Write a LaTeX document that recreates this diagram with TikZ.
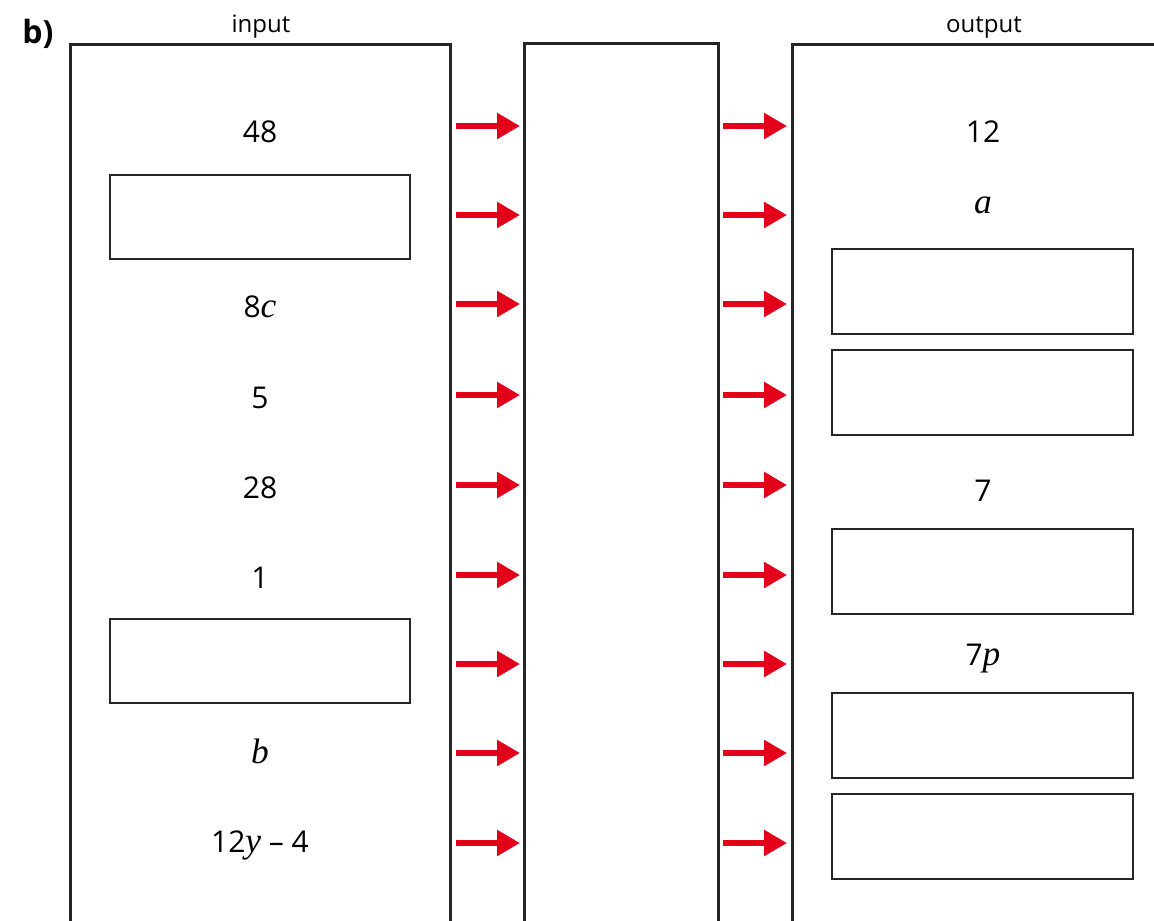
\documentclass[tikz,border=0pt]{standalone}
\usepackage{amsmath}
\usepackage{xcolor}
\usepackage{fontspec}
\setmainfont{Open Sans}
\newfontfamily\varfont{Liberation Serif}[Scale=1.18]
\newcommand{\var}[1]{{\varfont\itshape #1}}
\usetikzlibrary{arrows.meta}
\definecolor{arrowred}{RGB}{226,0,26}
\tikzset{
  panel/.style={draw=black!85, line width=1.5pt},
  blank/.style={draw=black!85, line width=1pt},
  val/.style={anchor=base, inner sep=0pt, font=\fontsize{15}{18}\selectfont},
  head/.style={anchor=base, inner sep=0pt, font=\fontsize{12}{14}\selectfont},
  arr/.style={draw=arrowred, line width=2.75pt, -{Triangle[length=11.5pt,width=12.5pt]}}
}

\begin{document}
\begin{tikzpicture}[x=0.5pt,y=-0.5pt]
\useasboundingbox (0,0) rectangle (1154,920);
% panels, open at the bottom
\draw [panel] (70,925) -- (70,45) -- (450,45) -- (450,925);
\draw [panel] (524,925) -- (524,44) -- (718,44) -- (718,925);
\draw [panel] (792,925) -- (792,45) -- (1160,45);
\node [anchor=base, inner sep=0pt, font=\fontsize{16}{19}\selectfont\bfseries] (part) at (38,44) {b)};
\node [head] (inlabel) at (261,33) {input};
\node [head] (outlabel) at (984,33) {output};
% input column
\node [val] (in1) at (260,142) {48};
\draw [blank] (110,175) rectangle (410,259);
\node [val] (in3) at (260,317) {8\var{c}};
\node [val] (in4) at (260,408) {5};
\node [val] (in5) at (260,498) {28};
\node [val] (in6) at (260,588) {1};
\draw [blank] (110,619) rectangle (410,703);
\node [val] (in8) at (260,763) {\var{b}};
\node [val] (in9) at (260,852) {12\var{y} -- 4};
% output column
\node [val] (out1) at (983,142) {12};
\node [val] (out2) at (983,213) {\var{a}};
\draw [blank] (832,249) rectangle (1133,334);
\draw [blank] (832,350) rectangle (1133,435);
\node [val] (out5) at (983,501) {7};
\draw [blank] (832,529) rectangle (1133,614);
\node [val] (out7) at (983,665) {7\var{p}};
\draw [blank] (832,693) rectangle (1133,778);
\draw [blank] (832,794) rectangle (1133,879);
% arrow ends
\coordinate (la1) at (456,126); \coordinate (lb1) at (520,126);
\coordinate (ra1) at (723,126); \coordinate (rb1) at (787,126);
\coordinate (la2) at (456,215); \coordinate (lb2) at (520,215);
\coordinate (ra2) at (723,215); \coordinate (rb2) at (787,215);
\coordinate (la3) at (456,304); \coordinate (lb3) at (520,304);
\coordinate (ra3) at (723,304); \coordinate (rb3) at (787,304);
\coordinate (la4) at (456,395); \coordinate (lb4) at (520,395);
\coordinate (ra4) at (723,395); \coordinate (rb4) at (787,395);
\coordinate (la5) at (456,485); \coordinate (lb5) at (520,485);
\coordinate (ra5) at (723,485); \coordinate (rb5) at (787,485);
\coordinate (la6) at (456,575); \coordinate (lb6) at (520,575);
\coordinate (ra6) at (723,575); \coordinate (rb6) at (787,575);
\coordinate (la7) at (456,664); \coordinate (lb7) at (520,664);
\coordinate (ra7) at (723,664); \coordinate (rb7) at (787,664);
\coordinate (la8) at (456,753); \coordinate (lb8) at (520,753);
\coordinate (ra8) at (723,753); \coordinate (rb8) at (787,753);
\coordinate (la9) at (456,843); \coordinate (lb9) at (520,843);
\coordinate (ra9) at (723,843); \coordinate (rb9) at (787,843);
% arrows
\draw [arr] (la1) -- (lb1); \draw [arr] (ra1) -- (rb1);
\draw [arr] (la2) -- (lb2); \draw [arr] (ra2) -- (rb2);
\draw [arr] (la3) -- (lb3); \draw [arr] (ra3) -- (rb3);
\draw [arr] (la4) -- (lb4); \draw [arr] (ra4) -- (rb4);
\draw [arr] (la5) -- (lb5); \draw [arr] (ra5) -- (rb5);
\draw [arr] (la6) -- (lb6); \draw [arr] (ra6) -- (rb6);
\draw [arr] (la7) -- (lb7); \draw [arr] (ra7) -- (rb7);
\draw [arr] (la8) -- (lb8); \draw [arr] (ra8) -- (rb8);
\draw [arr] (la9) -- (lb9); \draw [arr] (ra9) -- (rb9);
\end{tikzpicture}
\end{document}
